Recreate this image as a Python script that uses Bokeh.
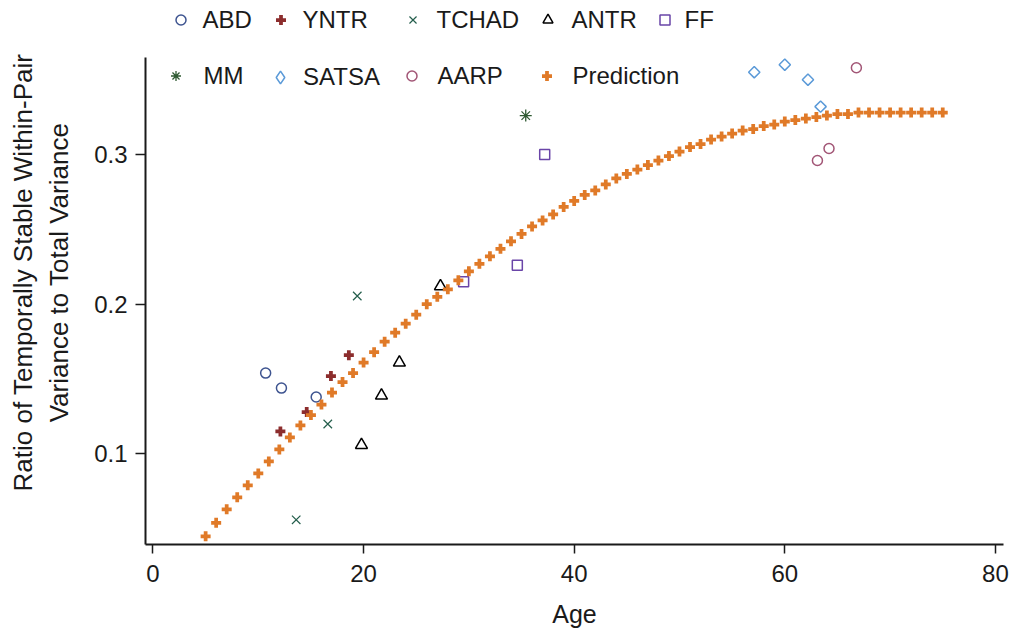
import math
from bokeh.plotting import figure
from bokeh.models import Legend, LegendItem, FixedTicker, Range1d
from bokeh.embed import file_html
from bokeh.resources import INLINE

# ---- data ----
abd_age = [10.7, 12.2, 15.5]
abd_val = [0.154, 0.144, 0.138]
yntr_age = [12.1, 14.6, 16.9, 18.6]
yntr_val = [0.115, 0.128, 0.152, 0.166]
tchad_age = [13.6, 16.6, 19.4]
tchad_val = [0.056, 0.120, 0.2055]
antr_age = [19.8, 21.7, 23.4, 27.3]
antr_val = [0.106, 0.139, 0.161, 0.212]
ff_age = [29.5, 34.6, 37.2]
ff_val = [0.215, 0.226, 0.300]
mm_age = [35.4]
mm_val = [0.326]
satsa_age = [57.1, 60.0, 62.2, 63.4]
satsa_val = [0.355, 0.360, 0.350, 0.332]
aarp_age = [63.1, 64.2, 66.8]
aarp_val = [0.296, 0.304, 0.358]
pred_age = list(range(5, 76))
pred_val = [0.045, 0.054, 0.063, 0.071, 0.079, 0.087, 0.095, 0.103, 0.111, 0.119,
            0.126, 0.133, 0.141, 0.148, 0.154, 0.161, 0.168, 0.175, 0.181, 0.187,
            0.193, 0.200, 0.205, 0.210, 0.216, 0.222, 0.227, 0.232, 0.237, 0.242,
            0.247, 0.252, 0.256, 0.260, 0.265, 0.269, 0.273, 0.276, 0.280, 0.284,
            0.287, 0.290, 0.293, 0.296, 0.299, 0.302, 0.305, 0.307, 0.310, 0.312,
            0.314, 0.316, 0.317, 0.319, 0.320, 0.322, 0.323, 0.324, 0.325, 0.326,
            0.327, 0.327, 0.328, 0.328, 0.328, 0.328, 0.328, 0.328, 0.328, 0.328,
            0.328]
x_ticks = [0, 20, 40, 60, 80]
y_ticks = [0.1, 0.2, 0.3]

FONT = "Liberation Sans"
TXT = "#1a1a1a"
Y0, Y1 = 0.0395, 0.3649   # extent of the y axis line
X0, X1 = -0.71, 80.77

p = figure(width=1009, height=630, output_backend="svg", toolbar_location=None,
           title=None,
           x_range=Range1d(X0, X1), y_range=Range1d(Y0, 0.4029),
           min_border_left=145, min_border_right=6, min_border_top=0,
           min_border_bottom=85)
p.xgrid.visible = False
p.ygrid.visible = False
p.outline_line_color = None
p.background_fill_color = "white"

for ax in (p.xaxis[0], p.yaxis[0]):
    ax.axis_line_width = 2
    ax.axis_line_color = TXT
    ax.major_tick_line_width = 1.5
    ax.major_tick_line_color = TXT
    ax.major_tick_out = 9
    ax.major_tick_in = 0
    ax.minor_tick_line_color = None
    ax.major_label_text_font = FONT
    ax.major_label_text_font_size = "24px"
    ax.major_label_text_color = TXT
    ax.axis_label_text_font = FONT
    ax.axis_label_text_font_size = "25px"
    ax.axis_label_text_font_style = "normal"
    ax.axis_label_text_color = TXT

p.yaxis.bounds = (Y0, Y1)
p.xaxis.ticker = FixedTicker(ticks=x_ticks)
p.yaxis.ticker = FixedTicker(ticks=y_ticks)
p.yaxis.major_tick_out = 10
p.xaxis.major_label_standoff = 11
p.yaxis.major_label_standoff = 8
p.xaxis.axis_label = "Age"
p.xaxis.axis_label_standoff = 15
p.yaxis.axis_label = "Ratio of Temporally Stable Within-Pair\nVariance to Total Variance"
p.yaxis.axis_label_standoff = 17
p.yaxis.axis_label_text_font_size = "26px"
p.yaxis.axis_label_text_line_height = 1.2

r_abd = p.scatter(abd_age, abd_val, marker="circle", size=10, fill_color=None,
                  line_color="#3e5490", line_width=1.5)
r_yntr = p.scatter(yntr_age, yntr_val, marker="plus", size=10, fill_color="#8c2d2d",
                   line_color=None)
r_tchad = p.scatter(tchad_age, tchad_val, marker="x", size=12, line_color="#245e4c",
                    line_width=1.2)
r_antr = p.scatter(antr_age, antr_val, marker="triangle", size=12, fill_color=None,
                   line_color="#000000", line_width=1.5)
r_ff = p.scatter(ff_age, ff_val, marker="square", size=10, fill_color=None,
                 line_color="#6a45a8", line_width=1.5)
r_mm = p.scatter(mm_age, mm_val, marker="asterisk", size=12, line_color="#2f5a32",
                 line_width=1.3)
r_satsa = p.scatter(satsa_age, satsa_val, marker="square", angle=math.pi / 4, size=8,
                    fill_color=None, line_color="#5b9ad8", line_width=1.5)
# legend swatch for SATSA (legend swatches ignore marker angle); placed off-range
r_satsa_key = p.scatter([-50], [-1], marker="diamond", size=12, fill_color=None,
                        line_color="#5b9ad8", line_width=1.5)
r_aarp = p.scatter(aarp_age, aarp_val, marker="circle", size=10, fill_color=None,
                   line_color="#a25676", line_width=1.5)
r_pred = p.scatter(pred_age, pred_val, marker="plus", size=10, fill_color="#e07a28",
                   line_color=None)

FL, FB = 145, 545  # frame left / bottom in page pixels
GW = 25


def add_leg(r, label, mx, my, tx, gw=GW, gh=GW):
    leg = Legend(items=[LegendItem(label=label, renderers=[r])],
                 location=(mx - gw / 2 - FL, FB - my - gh / 2),
                 padding=0, margin=0, spacing=0,
                 glyph_width=gw, glyph_height=gh,
                 label_height=gh, label_standoff=int(round(tx - (mx + gw / 2))),
                 label_text_font=FONT, label_text_font_size="24px",
                 label_text_color=TXT,
                 border_line_color=None, background_fill_alpha=0)
    p.add_layout(leg, "center")


add_leg(r_abd, "ABD", 180, 22, 203)
add_leg(r_yntr, "YNTR", 280, 22, 303)
add_leg(r_tchad, "TCHAD", 412, 22, 437)
add_leg(r_antr, "ANTR", 547, 22, 572)
add_leg(r_ff, "FF", 664, 22, 685)
add_leg(r_mm, "MM", 175, 78, 203)
add_leg(r_satsa_key, "SATSA", 280, 78, 303, gw=32, gh=32)
add_leg(r_aarp, "AARP", 411, 78, 437)
add_leg(r_pred, "Prediction", 546, 78, 572)

open("out.html", "w").write(file_html(p, INLINE))
